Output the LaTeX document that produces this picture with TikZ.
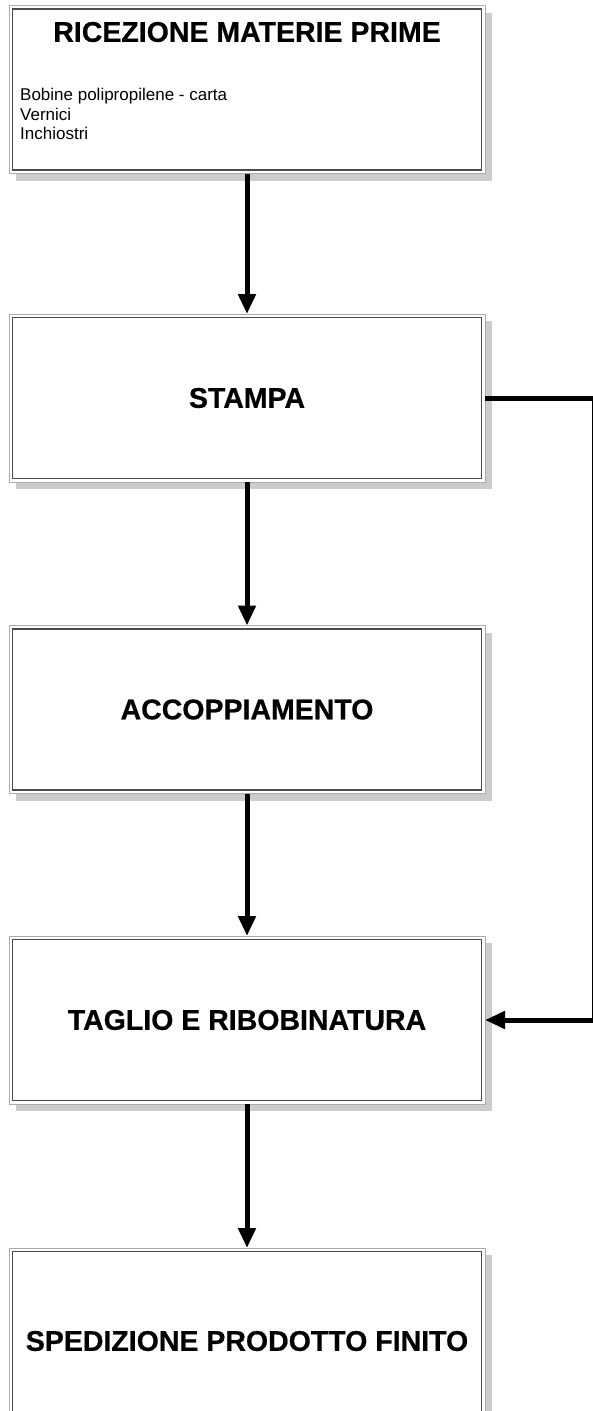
\documentclass[tikz,border=0pt]{standalone}
\usepackage{fontspec}
\setmainfont{Liberation Sans}
\newfontfamily\headfont[FakeBold=0.6]{Liberation Sans Bold}
\usetikzlibrary{arrows.meta,shadows}
\tikzset{
  x=1pt, y=-1pt,
  procbox/.style={draw=gray!65, line width=1pt, fill=white, minimum width=476pt, minimum height=168pt,
    inner sep=0pt, outer sep=0pt,
    drop shadow={shadow xshift=7pt, shadow yshift=-7pt, fill=black!20, opacity=1},
    path picture={\draw[black!70, line width=1.1pt]
      ([shift={(3.5pt,-3.5pt)}]path picture bounding box.north west) rectangle
      ([shift={(-3.5pt,3.5pt)}]path picture bounding box.south east);},
    font=\fontsize{28.5}{31}\headfont},
  titletext/.style={font=\fontsize{28.5}{31}\headfont, inner sep=0pt},
  listtext/.style={font=\fontsize{17}{19.5}\selectfont, align=left, inner sep=0pt},
  flow/.style={line width=5pt, -{Triangle[length=20pt, width=17pt]}},
}
\begin{document}
\begin{tikzpicture}
\useasboundingbox (0,0) rectangle (593,1411);
\node[procbox] (b1) at (247,89.5) {};
\node[titletext] (t1) at (247,32) {RICEZIONE MATERIE PRIME};
\node[listtext, anchor=north west] (l1) at (20,88) {Bobine polipropilene - carta\\Vernici\\Inchiostri};
\node[procbox] (b2) at (247,398) {STAMPA};
\node[procbox] (b3) at (247,709.5) {ACCOPPIAMENTO};
\node[procbox] (b4) at (247,1020) {TAGLIO E RIBOBINATURA};
\node[procbox] (b5) at (247,1332) {};
\node[titletext] (t5) at (247,1341) {SPEDIZIONE PRODOTTO FINITO};
\draw[flow] (b1.south) -- (b2.north);
\draw[flow] (b2.south) -- (b3.north);
\draw[flow] (b3.south) -- (b4.north);
\draw[flow] (b4.south) -- (b5.north);
\coordinate (c1) at (594.7,398);
\draw[flow] (b2.east) -- (c1) |- (b4.east);
\end{tikzpicture}
\end{document}
